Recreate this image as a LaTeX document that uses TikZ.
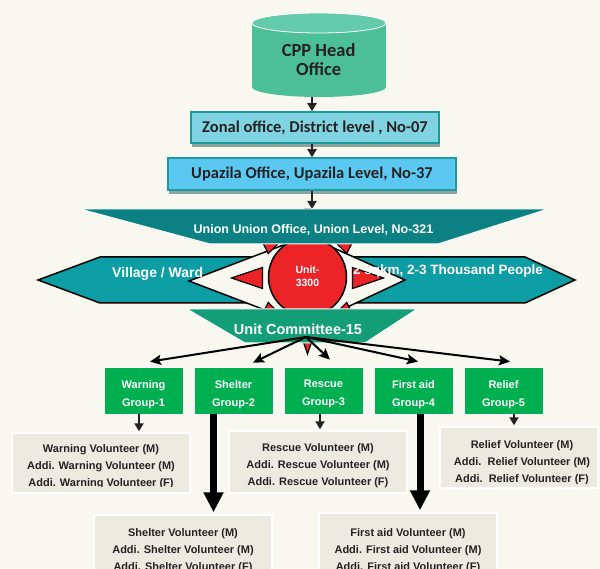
\documentclass[tikz,border=0pt]{standalone}
\usepackage{fontspec}
\setmainfont{Liberation Sans}
\newfontfamily\calfont{Carlito}
\usetikzlibrary{arrows.meta,calc,shadows}
\definecolor{bgc}{HTML}{F8F8F1}
\definecolor{ink}{HTML}{262223}
\definecolor{cylbody}{HTML}{4CBF98}
\definecolor{cyltop}{HTML}{63CAAA}
\definecolor{zonalfill}{HTML}{80D3E0}
\definecolor{upafill}{HTML}{5BC8F2}
\definecolor{boxborder}{HTML}{1D9A9B}
\definecolor{shadowc}{HTML}{8DA3A0}
\definecolor{unionc}{HTML}{0B8183}
\definecolor{hexc}{HTML}{0D9DA5}
\definecolor{sunred}{HTML}{EC2327}
\definecolor{unitc}{HTML}{139E78}
\definecolor{grpgreen}{HTML}{00AF4F}
\definecolor{volfill}{HTML}{EDEAE1}
\tikzset{
  arr/.style={draw=ink, line width=2pt, -{Triangle[length=8pt,width=9pt]}},
  fanarr/.style={draw=black, line width=2pt, -{Stealth[length=11pt,width=10pt,inset=2pt]}},
  thickarr/.style={draw=black, line width=7pt, -{Triangle[length=20pt,width=19pt]}},
  office/.style={draw=boxborder, line width=1.5pt, inner sep=0pt, text=ink,
    font=\calfont\bfseries\fontsize{16.5}{18}\selectfont,
    drop shadow={shadow xshift=1pt, shadow yshift=-4pt, fill=shadowc, opacity=1}},
  grp/.style={fill=grpgreen, draw=white, line width=0.8pt, minimum width=79pt, minimum height=47pt, inner sep=0pt},
  grptext/.style={text=white, font=\bfseries\fontsize{11}{18}\selectfont, align=center, inner sep=0pt, anchor=north},
  vol/.style={fill=volfill, draw=white, line width=1.5pt, minimum width=178pt, minimum height=60pt, inner sep=0pt},
  voltext/.style={text=ink, font=\bfseries\fontsize{11}{17}\selectfont, align=center, inner sep=0pt, anchor=north},
  whitetext/.style={text=white, inner sep=0pt},
  hexshape/.style={fill=hexc, draw=black, line width=1.5pt},
  rayshape/.style={fill=sunred, draw=black, line width=1.2pt}
}
\begin{document}
\begin{tikzpicture}[x=1pt,y=-1pt]
\useasboundingbox (0,0) rectangle (600,569);
\clip (0,0) rectangle (600,569);
\fill[bgc] (0,0) rectangle (600,569);

% head office cylinder
\fill[cylbody] (252,23) rectangle (386,87);
\fill[cylbody] (319,87) ellipse [x radius=67, y radius=10];
\filldraw[fill=cyltop, draw=white, line width=0.8pt] (319,23) ellipse [x radius=67, y radius=10];
\node[inner sep=0pt, minimum width=134pt, minimum height=84pt] (cpp) at (319,55) {};
\node[text=ink, font=\calfont\bfseries\fontsize{18.5}{19}\selectfont, align=center, inner sep=0pt, anchor=north] (cpptext) at (318.7,43) {CPP Head\\Office};

\coordinate (spine) at (312,0);
\node[office, fill=zonalfill, minimum width=248pt, minimum height=31pt] (zonal) at (315,127.5) {Zonal office, District level , No-07};
\node[office, fill=upafill, minimum width=288pt, minimum height=32pt] (upazila) at (312,174) {Upazila Office, Upazila Level, No-37};
\draw[arr] (cpp.south -| spine) -- (zonal.north -| spine);
\draw[arr] (zonal.south -| spine) -- (upazila.north -| spine);
\coordinate (uniontop) at (312,209);
\draw[arr] (upazila.south -| spine) -- (uniontop);

% village band
\filldraw[hexshape] (38,280) -- (100,257) -- (300,257) -- (300,303) -- (100,303) -- cycle;
\filldraw[hexshape] (575,280) -- (525,257) -- (310,257) -- (310,303) -- (525,303) -- cycle;
\filldraw[fill=bgc, draw=black, line width=1.5pt] (189,281) -- (307,236) -- (405,280) -- (307,326) -- cycle;

% sun
\coordinate (sun) at (307.5,278);
\begin{scope}
  \clip (0,209) rectangle (600,569);
  \foreach \a in {0,45,...,315} {
    \filldraw[rayshape] ($(sun)+(\a:76)$) -- ($(sun)+(\a:45)+(\a+90:10.5)$) -- ($(sun)+(\a:45)+(\a-90:10.5)$) -- cycle;
  }
\end{scope}
\filldraw[fill=sunred, draw=black, line width=1.5pt] (307.5,277) circle [radius=39];

% union and committee
\filldraw[fill=unionc, draw=white, line width=1pt] (80,209) -- (548,209) -- (438,244) -- (210,244) -- cycle;
\filldraw[fill=unitc, draw=white, line width=1pt] (187,309) -- (417,309) -- (365,343) -- (245,343) -- cycle;

\node[whitetext, anchor=base, font=\bfseries\fontsize{12.5}{14}\selectfont] (uniontext) at (313.5,234) {Union Union Office, Union Level, No-321};
\node[whitetext, anchor=base west, font=\bfseries\fontsize{14}{16}\selectfont] (village) at (112,277.5) {Village / Ward};
\node[whitetext, anchor=base east, font=\bfseries\fontsize{13.5}{16}\selectfont] (area) at (543,275) {2 sqkm, 2-3 Thousand People};
\node[whitetext, anchor=north, align=center, font=\bfseries\fontsize{10.5}{13}\selectfont] (unitno) at (307.5,265.5) {Unit-\\3300};
\node[whitetext, anchor=base, font=\bfseries\fontsize{14.5}{16}\selectfont] (committee) at (298,335) {Unit Committee-15};

% groups
\node[grp] (g1) at (143.5,390.5) {};
\node[grp] (g2) at (233.5,390.5) {};
\node[grp] (g3) at (323.5,390.5) {};
\node[grp] (g4) at (413.5,390.5) {};
\node[grp] (g5) at (503.5,390.5) {};
\node[grptext] at (143.5,380) {Warning\\Group-1};
\node[grptext] at (233.5,380) {Shelter\\Group-2};
\node[grptext] at (323.5,380) {Rescue\\Group-3};
\node[grptext] at (413.5,380) {First aid\\Group-4};
\node[grptext] at (503.5,380) {Relief\\Group-5};

\coordinate (fan) at (306,337);
\draw[fanarr] (fan) -- ([xshift=6.5pt,yshift=5pt]g1.north);
\draw[fanarr] (fan) -- ([xshift=19.5pt,yshift=4pt]g2.north);
\draw[fanarr] (fan) -- ([xshift=6.5pt,yshift=7pt]g3.north);
\draw[fanarr] (fan) -- ([xshift=4.5pt,yshift=5pt]g4.north);
\draw[fanarr] (fan) -- ([xshift=6.5pt,yshift=5pt]g5.north);

% volunteer boxes
\node[vol] (v1) at (101,463) {};
\node[vol, minimum height=62pt] (v3) at (318,462) {};
\node[vol, minimum width=158pt, minimum height=61pt] (v5) at (519,457.5) {};
\node[vol] (v2) at (183,545) {};
\node[vol] (v4) at (408,543) {};

\begin{scope}
  \clip (v1.north west) rectangle ([yshift=7.5pt]v1.south east);
  \node[voltext] at (101,444) {Warning Volunteer (M)\\Addi. Warning Volunteer (M)\\Addi. Warning Volunteer (F)};
\end{scope}
\node[voltext] at (318,443.5) {Rescue Volunteer (M)\\Addi. Rescue Volunteer (M)\\Addi. Rescue Volunteer (F)};
\begin{scope}
  \clip (v5.north west) rectangle ([yshift=5.5pt]v5.south east);
  \node[voltext] at (522,440) {Relief Volunteer (M)\\Addi.\ \ Relief Volunteer (M)\\Addi.\ \ Relief Volunteer (F)};
\end{scope}
\node[voltext] at (183,528) {Shelter Volunteer (M)\\Addi. Shelter Volunteer (M)\\Addi. Shelter Volunteer (F)};
\node[voltext] at (408,528) {First aid Volunteer (M)\\Addi. First aid Volunteer (M)\\Addi. First aid Volunteer (F)};

% group to volunteer arrows
\draw[arr] ([xshift=-4.5pt]g1.south) -- ([xshift=-4.5pt,yshift=1pt]g1.south |- v1.north);
\draw[thickarr] ([xshift=-20pt]g2.south) -- ([xshift=-20pt,yshift=2pt]g2.south |- v2.north);
\draw[arr] ([xshift=-3.5pt]g3.south) -- ([xshift=-3.5pt,yshift=1pt]g3.south |- v3.north);
\draw[thickarr] ([xshift=6.5pt]g4.south) -- ([xshift=6.5pt,yshift=2pt]g4.south |- v4.north);
\draw[arr] ([xshift=10.5pt]g5.south) -- ([xshift=10.5pt,yshift=1pt]g5.south |- v5.north);
\end{tikzpicture}
\end{document}
